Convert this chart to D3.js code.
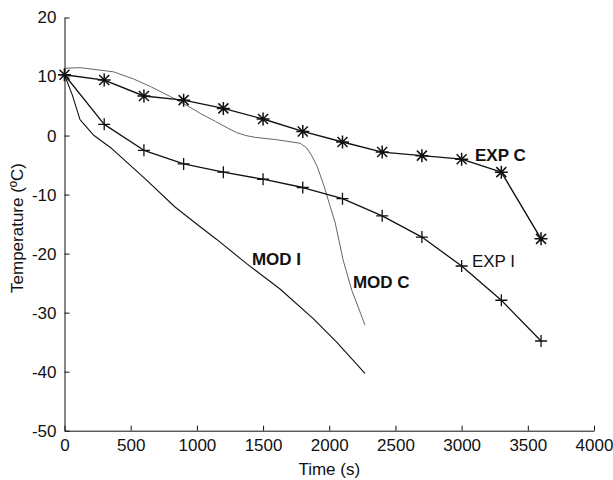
<!DOCTYPE html>
<html>
<head>
<meta charset="utf-8">
<script src="https://cdn.jsdelivr.net/npm/d3@7"></script>
<style>
    body { margin: 0; background: #fff; }
    svg { display: block; font-family: "Liberation Sans", Arial, sans-serif; }
    .axis path, .axis line { stroke: #111; stroke-width: 1; }
    .axis text { font-size: 17px; fill: #111; }
    .label { font-size: 17px; fill: #111; }
    .note { font-size: 17px; fill: #111; }
</style>
</head>
<body>
<svg id="chart" width="613" height="480"></svg>
<script>
'use strict';

// experimental series, one reading every 300 s
const expTime = [0, 300, 600, 900, 1200, 1500, 1800, 2100, 2400, 2700, 3000, 3300, 3600];
const expC = [10.3, 9.4, 6.7, 6.0, 4.6, 2.8, 0.7, -1.1, -2.8, -3.4, -4.0, -6.2, -17.5];
const expI = [10.3, 1.9, -2.5, -4.8, -6.2, -7.4, -8.8, -10.7, -13.6, -17.2, -22.1, -27.9, -34.8];

// model curves
const modCTime = [0, 120, 370, 520, 650, 800, 925, 1030, 1140, 1230, 1300, 1370, 1440, 1600, 1780, 1830, 1870, 1910, 1960, 2000, 2045, 2105, 2170, 2270];
const modC = [11.4, 11.5, 10.8, 9.6, 8.3, 6.6, 5.1, 3.7, 2.4, 1.3, 0.5, 0.0, -0.3, -0.7, -1.3, -2.1, -3.5, -5.3, -8.5, -11.5, -14.8, -21.1, -26.2, -32.1];
const modITime = [0, 60, 117, 218, 357, 608, 835, 1010, 1150, 1376, 1628, 1879, 2056, 2270];
const modI = [10.3, 6.8, 2.7, 0.1, -2.2, -7.3, -12.1, -15.2, -17.6, -21.7, -26.0, -31.0, -35.0, -40.3];

// curve labels (data coordinates of the text start)
const noteText = ["MOD I", "MOD C", "EXP C", "EXP I"];
const noteTime = [1416, 2179, 3101, 3078];
const noteTemp = [-21.9, -25.8, -4.3, -22.3];
const noteBold = [true, true, true, false];

const xTicks = [0, 500, 1000, 1500, 2000, 2500, 3000, 3500, 4000];
const yTicks = [20, 10, 0, -10, -20, -30, -40, -50];

const margin = { top: 17.5, right: 19, bottom: 49.3, left: 64.5 };
const width = 613, height = 480;

const svg = d3.select('#chart');

const x = d3.scaleLinear()
    .domain([0, 4000])
    .range([margin.left, width - margin.right]);

const y = d3.scaleLinear()
    .domain([-50, 20])
    .range([height - margin.bottom, margin.top]);

// plain hyphen for negatives, like the original
const plain = (d) => String(d);

// axes, ticks pointing into the plot
svg.append('g')
    .classed('axis', true)
    .attr('transform', `translate(0,${height - margin.bottom})`)
    .call(d3.axisBottom(x).tickValues(xTicks).tickSize(-5).tickSizeOuter(0).tickPadding(8).tickFormat(plain));

svg.append('g')
    .classed('axis', true)
    .attr('transform', `translate(${margin.left},0)`)
    .call(d3.axisLeft(y).tickValues(yTicks).tickSize(-5).tickSizeOuter(0).tickPadding(8).tickFormat(plain));

// axis titles
svg.append('text')
    .classed('label', true)
    .attr('x', (margin.left + width - margin.right) / 2)
    .attr('y', 475)
    .attr('text-anchor', 'middle')
    .text('Time (s)');

svg.append('text')
    .classed('label', true)
    .attr('transform', 'translate(23,228) rotate(-90)')
    .attr('text-anchor', 'middle')
    .text('Temperature (ºC)');

const line = d3.line()
    .x((d) => x(d[0]))
    .y((d) => y(d[1]));

function drawLine(times, temps, color, strokeWidth) {
    svg.append('path')
        .datum(d3.zip(times, temps))
        .attr('fill', 'none')
        .attr('stroke', color)
        .attr('stroke-width', strokeWidth)
        .attr('stroke-linejoin', 'round')
        .attr('d', line);
}

drawLine(modCTime, modC, '#666', 1);
drawLine(modITime, modI, '#111', 1.1);
drawLine(expTime, expC, '#111', 1.4);
drawLine(expTime, expI, '#111', 1.3);

// star markers for EXP C
svg.append('g')
    .selectAll('path')
    .data(d3.zip(expTime, expC))
    .join('path')
    .attr('transform', (d) => `translate(${x(d[0])},${y(d[1])})`)
    .attr('d', 'M-6.5,0H6.5M0,-6.5V6.5M-5,-5L5,5M-5,5L5,-5')
    .attr('fill', 'none')
    .attr('stroke', '#111')
    .attr('stroke-width', 1.5);

// plus markers for EXP I
svg.append('g')
    .selectAll('path')
    .data(d3.zip(expTime, expI))
    .join('path')
    .attr('transform', (d) => `translate(${x(d[0])},${y(d[1])})`)
    .attr('d', 'M-6,0H6M0,-6V6')
    .attr('fill', 'none')
    .attr('stroke', '#111')
    .attr('stroke-width', 1.3);

// curve labels
svg.append('g')
    .selectAll('text')
    .data(noteText)
    .join('text')
    .classed('note', true)
    .attr('x', (d, i) => x(noteTime[i]))
    .attr('y', (d, i) => y(noteTemp[i]))
    .attr('font-weight', (d, i) => noteBold[i] ? 'bold' : 'normal')
    .text((d) => d);
</script>
</body>
</html>
